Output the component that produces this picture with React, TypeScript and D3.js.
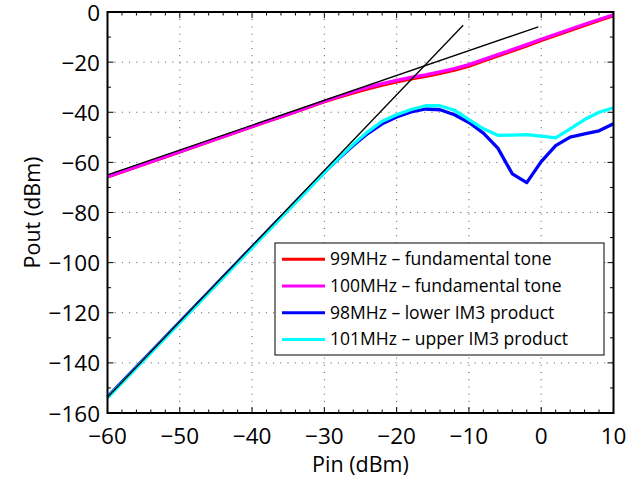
import React from 'react';
import * as d3 from 'd3';

// ---- data ----
const fundPin = [-60, -50, -40, -34, -30, -28, -26, -24, -22, -20, -18, -16, -14, -12, -10, -8, -6, -4, -2, 0, 2, 4, 6, 8, 10];
const tone100 = [-65.7, -55.7, -45.7, -39.8, -35.6, -33.7, -31.8, -30.1, -28.6, -27.3, -26.1, -25.1, -23.9, -22.6, -21.0, -19.0, -17.0, -15.0, -13.0, -10.9, -8.9, -6.9, -4.9, -3.0, -1.1];
const tone99 = [-65.8, -55.8, -45.8, -39.9, -35.8, -34.0, -32.3, -30.7, -29.2, -27.9, -26.7, -25.7, -24.5, -23.2, -21.6, -19.5, -17.5, -15.5, -13.5, -11.4, -9.4, -7.4, -5.4, -3.4, -1.5];

const im3Pin = [-60, -50, -40, -30, -28, -26, -24, -22, -20, -18, -16, -14, -12, -10, -8, -6, -4, -2, 0, 2, 4, 6, 8, 10];
const lower98 = [-153.6, -123.6, -93.7, -64.0, -58.5, -53.3, -48.5, -44.6, -41.9, -39.9, -38.7, -39.0, -41.0, -44.1, -48.3, -54.3, -64.6, -68.1, -59.7, -53.3, -49.9, -48.6, -47.4, -44.6];
const upper101 = [-154.0, -124.0, -94.0, -64.1, -58.3, -52.8, -47.8, -43.6, -41.0, -38.9, -37.4, -37.4, -39.2, -42.9, -46.6, -49.2, -49.1, -48.9, -49.5, -50.2, -46.6, -42.9, -40.0, -38.2];

const fundExtPin = [-60, -0.4];
const fundExtOut = [-65.0, -5.9];
const im3ExtPin = [-60, -10.8];
const im3ExtOut = [-153.7, -5.3];

const xTicks = [-60, -50, -40, -30, -20, -10, 0, 10];
const yTicks = [0, -20, -40, -60, -80, -100, -120, -140, -160];
const xMinor = d3.range(-60, 10.001, 2);
const yMinor = d3.range(-160, 0.001, 10);

const seriesNames = ['99MHz \u2013 fundamental tone', '100MHz \u2013 fundamental tone', '98MHz \u2013 lower IM3 product', '101MHz \u2013 upper IM3 product'];
const seriesColors = ['#ff0000', '#ff00ff', '#0000ff', '#00ffff'];

const W = 628, H = 478;
const L = 107.5, R = 613.5, T = 12, B = 413;
const FONT = '"Open Sans", sans-serif';
const minus = (v: number) => (v < 0 ? '\u2212' + Math.abs(v) : String(v));

export default function App() {
  const x = d3.scaleLinear().domain([-60, 10]).range([L, R]);
  const y = d3.scaleLinear().domain([-160, 0]).range([B, T]);
  const line = d3.line<[number, number]>().x(d => x(d[0])).y(d => y(d[1]));
  const zip = (a: number[], b: number[]) => a.map((v, i) => [v, b[i]] as [number, number]);

  const series = [
    { pts: zip(fundPin, tone99), color: seriesColors[0], w: 3.3 },
    { pts: zip(fundPin, tone100), color: seriesColors[1], w: 3.3 },
    { pts: zip(im3Pin, lower98), color: seriesColors[2], w: 3.3 },
    { pts: zip(im3Pin, upper101), color: seriesColors[3], w: 3.3 },
  ];

  const legX = 275, legY = 243, legW = 329, legH = 112, rowH = 26.7;

  return (
    <svg width={W} height={H} style={{ position: 'fixed', left: 0, top: 0, background: '#fff' }} fontFamily={FONT}>
      <rect x={0} y={0} width={W} height={H} fill="#fff" />
      {/* grid */}
      <g stroke="#555" strokeWidth={1} strokeDasharray="1 6.2">
        {xTicks.slice(1, -1).map(t => (
          <line key={'gx' + t} x1={x(t)} x2={x(t)} y1={T} y2={B} />
        ))}
        {yTicks.slice(1, -1).map(t => (
          <line key={'gy' + t} x1={L} x2={R} y1={y(t)} y2={y(t)} />
        ))}
      </g>
      {/* data */}
      {series.map((s, i) => (
        <path key={i} d={line(s.pts) || ''} fill="none" stroke={s.color} strokeWidth={s.w} strokeLinejoin="round" />
      ))}
      <path d={line(zip(fundExtPin, fundExtOut)) || ''} stroke="#000" strokeWidth={1.3} fill="none" />
      <path d={line(zip(im3ExtPin, im3ExtOut)) || ''} stroke="#000" strokeWidth={1.3} fill="none" />
      {/* ticks */}
      <g stroke="#000" strokeWidth={1}>
        {xMinor.map(t => {
          const major = xTicks.includes(t);
          const len = major ? 6 : 3.5;
          return (
            <g key={'xt' + t}>
              <line x1={x(t)} x2={x(t)} y1={B} y2={B - len} />
              <line x1={x(t)} x2={x(t)} y1={T} y2={T + len} />
            </g>
          );
        })}
        {yMinor.map(t => {
          const major = yTicks.includes(t);
          const len = major ? 6 : 3.5;
          return (
            <g key={'yt' + t}>
              <line x1={L} x2={L + len} y1={y(t)} y2={y(t)} />
              <line x1={R} x2={R - len} y1={y(t)} y2={y(t)} />
            </g>
          );
        })}
      </g>
      {/* frame */}
      <rect x={L} y={T} width={R - L} height={B - T} fill="none" stroke="#000" strokeWidth={2} />
      {/* tick labels */}
      <g fontSize={22.5} fill="#000">
        {xTicks.map(t => (
          <text key={'xl' + t} x={x(t)} y={444} textAnchor="middle">{minus(t)}</text>
        ))}
        {yTicks.map(t => (
          <text key={'yl' + t} x={100} y={y(t) + 8.5} textAnchor="end">{minus(t)}</text>
        ))}
      </g>
      <text x={(L + R) / 2} y={472} textAnchor="middle" fontSize={21.5}>Pin (dBm)</text>
      <text transform={`translate(40,${(T + B) / 2}) rotate(-90)`} textAnchor="middle" fontSize={21.5}>Pout (dBm)</text>
      {/* legend */}
      <rect x={legX} y={legY} width={legW} height={legH} fill="#fff" stroke="#000" strokeWidth={1} />
      {seriesNames.map((n, i) => {
        const cy = legY + 16.3 + i * rowH;
        return (
          <g key={'lg' + i}>
            <line x1={legX + 7} x2={legX + 50} y1={cy} y2={cy} stroke={seriesColors[i]} strokeWidth={3} />
            <text x={legX + 55} y={cy + 6} fontSize={17.5}>{n}</text>
          </g>
        );
      })}
    </svg>
  );
}
